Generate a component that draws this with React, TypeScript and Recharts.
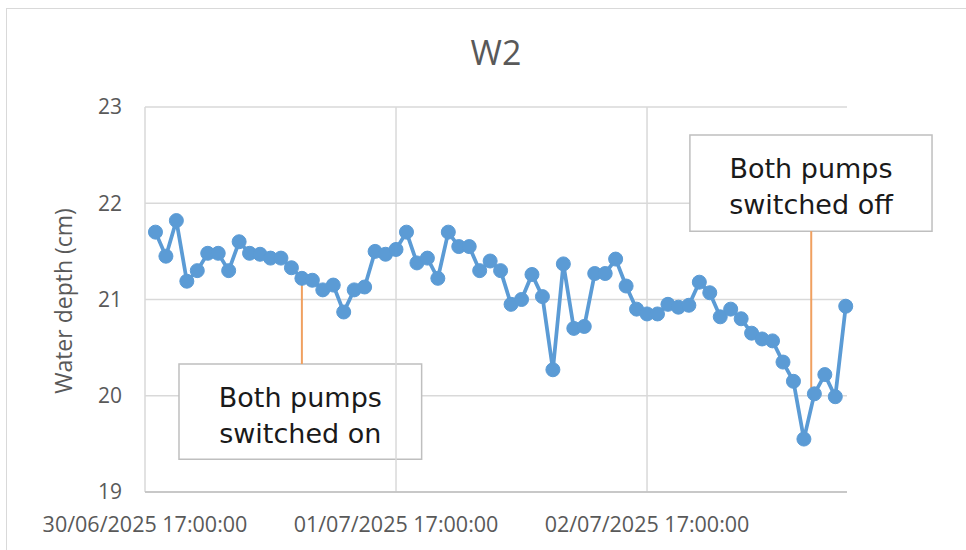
import React from "react";
import {
  LineChart,
  Line,
  XAxis,
  YAxis,
  CartesianGrid,
  ReferenceLine,
  ReferenceArea,
} from "recharts";

// Hours after 30/06/2025 17:00:00 (hourly readings)
const hours: number[] = [
  1, 2, 3, 4, 5, 6, 7, 8, 9, 10, 11, 12, 13, 14, 15, 16, 17, 18, 19, 20, 21, 22, 23, 24,
  25, 26, 27, 28, 29, 30, 31, 32, 33, 34, 35, 36, 37, 38, 39, 40, 41, 42, 43, 44, 45, 46, 47, 48,
  49, 50, 51, 52, 53, 54, 55, 56, 57, 58, 59, 60, 61, 62, 63, 64, 65, 66, 67,
];

const depthW2: number[] = [
  21.7, 21.45, 21.82, 21.19, 21.3, 21.48, 21.48, 21.3, 21.6, 21.48, 21.47, 21.43, 21.43, 21.33,
  21.22, 21.2, 21.1, 21.15, 20.87, 21.1, 21.13, 21.5, 21.47, 21.52,
  21.7, 21.38, 21.43, 21.22, 21.7, 21.55, 21.55, 21.3, 21.4, 21.3, 20.95, 21.0, 21.26, 21.03,
  20.27, 21.37, 20.7, 20.72, 21.27, 21.27, 21.42, 21.14, 20.9, 20.85,
  20.85, 20.95, 20.92, 20.94, 21.18, 21.07, 20.82, 20.9, 20.8, 20.65, 20.59, 20.57, 20.35, 20.15,
  19.55, 20.02, 20.22, 19.99, 20.93,
];

const xTicks: number[] = [0, 24, 48];
const xTickLabels: string[] = [
  "30/06/2025 17:00:00",
  "01/07/2025 17:00:00",
  "02/07/2025 17:00:00",
];
const yTicks: number[] = [19, 20, 21, 22, 23];

const title = "W2";
const yTitle = "Water depth (cm)";

const annotationOn = {
  lines: ["Both pumps", "switched on"],
  pointer: { x: 15, y1: 21.22, y2: 20.33 },
  box: { x1: 3.25, x2: 26.45, y1: 19.34, y2: 20.33 },
};
const annotationOff = {
  lines: ["Both pumps", "switched off"],
  pointer: { x: 63.7, y1: 20.08, y2: 21.71 },
  box: { x1: 52.1, x2: 75.25, y1: 21.71, y2: 22.71 },
};
const annotations = [annotationOn, annotationOff];

const data = hours.map((h, i) => ({ h, v: depthW2[i] }));

const W = 966;
const H = 550;

function BoxText(props: any) {
  const vb = props.viewBox || {};
  const cx = vb.x + vb.width / 2;
  const cy = vb.y + vb.height / 2;
  const lines: string[] = props.lines || [];
  return (
    <text
      x={cx}
      y={cy}
      textAnchor="middle"
      fontFamily="DejaVu Sans"
      fontSize={27}
      fill="#1A1A1A"
    >
      <tspan x={cx} y={cy - 5}>
        {lines[0]}
      </tspan>
      <tspan x={cx} y={cy + 31}>
        {lines[1]}
      </tspan>
    </text>
  );
}

export default function App() {
  return (
    <div
      style={{
        position: "absolute",
        left: 0,
        top: 0,
        width: W,
        height: H,
        overflow: "hidden",
        background: "#FFFFFF",
      }}
    >
      <div
        style={{
          position: "absolute",
          left: 6,
          top: 8,
          width: 1000,
          height: 700,
          border: "1.5px solid #D9D9D9",
          boxSizing: "border-box",
        }}
      />
      <div style={{ position: "absolute", left: 0, top: 0 }}>
        <LineChart
          width={W}
          height={H}
          data={data}
          margin={{ top: 107, right: 119, bottom: 18, left: 85 }}
        >
          <CartesianGrid stroke="#D9D9D9" strokeWidth={1.5} vertical={false} />
          {xTicks.map((t) => (
            <ReferenceLine
              key={"vg" + t}
              x={t}
              stroke="#D9D9D9"
              strokeWidth={1.5}
            />
          ))}
          <XAxis
            dataKey="h"
            type="number"
            domain={[0, 67.12]}
            ticks={xTicks}
            interval={0}
            tickFormatter={(v: number) => xTickLabels[xTicks.indexOf(v)] ?? ""}
            tickLine={false}
            tickSize={0}
            tickMargin={25}
            height={40}
            axisLine={{ stroke: "#BFBFBF", strokeWidth: 1.5 }}
            tick={{ fill: "#595959", fontSize: 21.5, fontFamily: "Open Sans" }}
          />
          <YAxis
            type="number"
            domain={[19, 23]}
            ticks={yTicks}
            interval={0}
            width={60}
            tickLine={false}
            tickSize={0}
            tickMargin={23}
            axisLine={false}
            tick={{ fill: "#595959", fontSize: 21, fontFamily: "Open Sans" }}
          />
          {annotations.map((a, i) => (
            <ReferenceLine
              key={"rl" + i}
              segment={[
                { x: a.pointer.x, y: a.pointer.y1 },
                { x: a.pointer.x, y: a.pointer.y2 },
              ]}
              stroke="#F0A060"
              strokeWidth={2}
              ifOverflow="visible"
            />
          ))}
          {annotations.map((a, i) => (
            <ReferenceArea
              key={"ra" + i}
              x1={a.box.x1}
              x2={a.box.x2}
              y1={a.box.y1}
              y2={a.box.y2}
              fill="#FFFFFF"
              fillOpacity={1}
              stroke="#BFBFBF"
              strokeWidth={1.5}
              ifOverflow="visible"
              label={<BoxText lines={a.lines} />}
            />
          ))}
          <Line
            type="linear"
            dataKey="v"
            stroke="#5B9BD5"
            strokeWidth={3.75}
            dot={{ r: 7, fill: "#5B9BD5", stroke: "#5B9BD5", strokeWidth: 1 }}
            activeDot={false}
            isAnimationActive={false}
          />
        </LineChart>
      </div>
      <svg
        width={W}
        height={H}
        style={{ position: "absolute", left: 0, top: 0, pointerEvents: "none" }}
      >
        <text
          x={496}
          y={65}
          textAnchor="middle"
          fontFamily="Open Sans"
          fontSize={34}
          fill="#595959"
        >
          {title}
        </text>
        <text
          x={0}
          y={0}
          transform="translate(63,301) rotate(-90)"
          textAnchor="middle"
          dominantBaseline="central"
          fontFamily="Open Sans"
          fontSize={23}
          fill="#595959"
        >
          {yTitle}
        </text>
      </svg>
    </div>
  );
}
